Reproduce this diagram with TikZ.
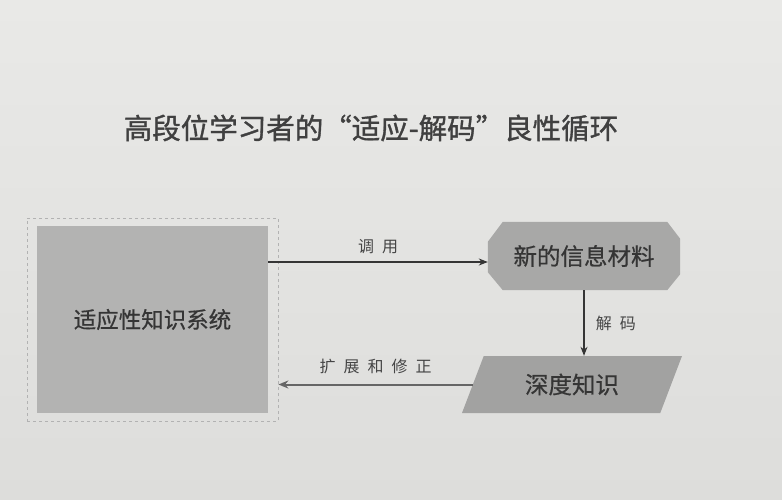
\documentclass[tikz,border=0pt]{standalone}
\usepackage{fontspec}
\usetikzlibrary{shapes.geometric,arrows.meta}
\newfontfamily\cjk[FakeBold=0.6]{Noto Sans CJK SC}
\newfontfamily\cjkt[FakeBold=1.2]{Noto Sans CJK SC}
\newfontfamily\cjklab[LetterSpace=50]{Noto Sans CJK SC}
\definecolor{bgtop}{HTML}{E9E9E7}
\definecolor{bgbot}{HTML}{DDDDDB}
\definecolor{boxa}{HTML}{B3B3B2}
\definecolor{boxb}{HTML}{A8A8A7}
\definecolor{boxc}{HTML}{A2A2A1}
\definecolor{ink}{HTML}{353535}
\definecolor{labink}{HTML}{454545}
\tikzset{
  txt/.style={font=\cjk\fontsize{23.5}{28}\selectfont, text=ink},
  lab/.style={font=\cjklab\fontsize{16}{18}\selectfont, text=labink},
  arr/.style={-{Stealth[length=9pt,width=7pt]}, line width=1.1pt, draw=ink},
  arrb/.style={-{Stealth[length=10pt,width=8pt]}, line width=2pt, draw=black!60},
}
\begin{document}
\begin{tikzpicture}[x=1pt,y=-1pt]
\useasboundingbox (0,0) rectangle (782,500);
\shade[top color=bgtop, bottom color=bgbot] (0,0) rectangle (782,500);
\node[font=\cjkt\fontsize{28.5}{32}\selectfont, text=black!75] (title) at (371,128) {高段位学习者的“适应-解码”良性循环};
\node[draw=black!30, dashed, line width=0.8pt, minimum width=251pt, minimum height=203pt, inner sep=0pt] (sysout) at (152.5,319.5) {};
\node[fill=boxa, minimum width=231pt, minimum height=187pt, inner sep=0pt, txt, font=\cjk\fontsize{22.5}{26}\selectfont] (sys) at (152.5,319.5) {适应性知识系统};
% chamfered box: shape drawn behind, text node on top
\node[minimum width=192pt, minimum height=68pt, inner sep=0pt] (hex) at (584,256) {};
\fill[boxb] ([xshift=15pt]hex.north west) -- ([xshift=-13pt]hex.north east)
  -- ([yshift=-17pt]hex.north east) -- ([yshift=16pt]hex.south east)
  -- ([xshift=-13pt]hex.south east) -- ([xshift=15pt]hex.south west)
  -- ([yshift=18pt]hex.south west) -- ([yshift=-20pt]hex.north west) -- cycle;
\node[txt] (hext) at (hex.center) {新的信息材料};
\node[trapezium, trapezium left angle=45, trapezium right angle=135, trapezium stretches body, fill=boxc, minimum width=220pt, minimum height=57pt, inner sep=0pt, txt] (para) at (572,384.5) {深度知识};
\path (hex.west) ++(0,6) coordinate (h1);
\path (hex.south) coordinate (h2);
\draw[arr] (sys.east |- h1) -- node[lab, above=4pt] (l1) {调用} (h1);
\draw[arr] (h2) -- node[lab, right=8pt] (l2) {解码} (h2 |- para.north);
\draw[arrb] (para.west) -- node[lab, above=6pt] (l3) {扩展和修正} (sysout.east |- para.west);
\end{tikzpicture}
\end{document}
